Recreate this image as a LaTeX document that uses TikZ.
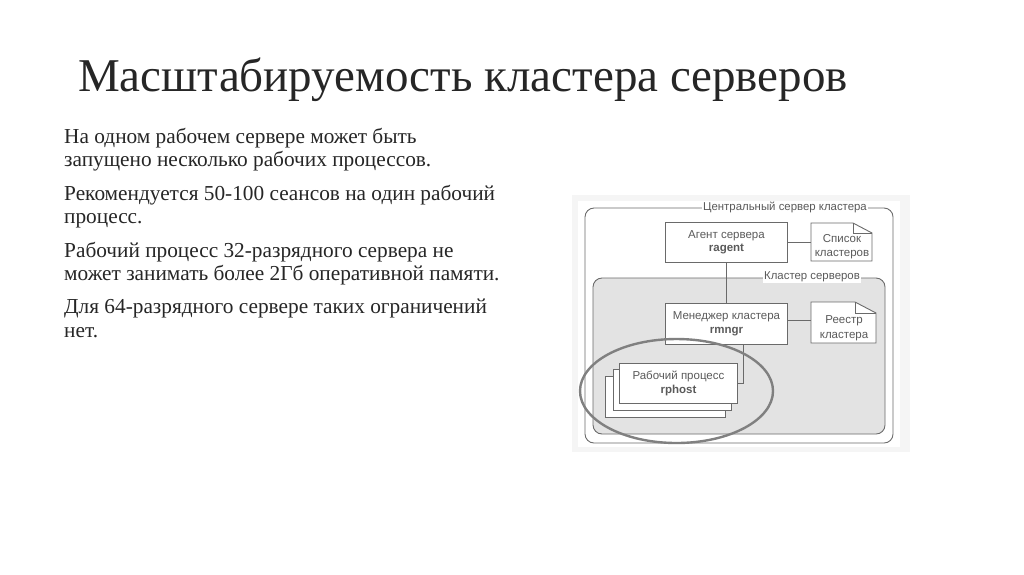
\documentclass[tikz,border=0pt]{standalone}
\usepackage{fontspec}
\setmainfont{Liberation Serif}
\newfontfamily\dia{Liberation Sans}
\usetikzlibrary{calc}
\definecolor{ln}{HTML}{6A6A6A}
\definecolor{txt}{HTML}{5A5A5A}
\tikzset{
 x=1pt,y=-1pt,
 titletext/.style={anchor=base west,inner sep=0pt,text=black!85,font=\fontsize{47}{52}\selectfont},
 bodytext/.style={anchor=north west,inner sep=0pt,align=left,text=black!85,font=\fontsize{21.3}{23.4}\selectfont},
 frame/.style={draw=ln,line width=0.9pt,rounded corners=9pt},
 boxn/.style={draw=ln,line width=0.9pt,fill=white,anchor=north west,inner sep=0pt,align=center,text=txt,font=\dia\fontsize{11.5}{13.5}\selectfont},
 lab/.style={inner sep=1pt,text=txt,font=\dia\fontsize{11.4}{12}\selectfont},
 wire/.style={draw=ln,line width=0.9pt},
 doclab/.style={inner sep=0pt,align=center,text=txt,font=\dia\fontsize{11.5}{14.5}\selectfont}
}
\begin{document}
\begin{tikzpicture}
\useasboundingbox (0,0) rectangle (1024,574);
\fill[white] (0,0) rectangle (1024,574);
\node[titletext] (title) at (78,91) {Масштабируемость кластера серверов};
\node[bodytext] (p1) at (64,128) {На одном рабочем сервере может быть\\запущено несколько рабочих процессов.};
\node[bodytext] (p2) at (64,185) {Рекомендуется 50-100 сеансов на один рабочий\\процесс.};
\node[bodytext] (p3) at (64,242) {Рабочий процесс 32-разрядного сервера не\\может занимать более 2Гб оперативной памяти.};
\node[bodytext] (p4) at (64,299) {Для 64-разрядного сервере таких ограничений\\нет.};
% scan background
\fill[black!4] (572,195) rectangle (910,452);
\fill[white] (578,201) rectangle (900,447);
% frames
\draw[frame,fill=white] (585,208) rectangle (893,443);
\draw[frame,fill=black!11] (593,278) rectangle (885,434);
\node[lab,fill=white] (central) at (785,207) {Центральный сервер кластера};
\node[lab,fill=white] (cluster) at (812,277) {Кластер серверов};
% boxes
\node[boxn,minimum width=122pt,minimum height=40pt] (agent) at (665,222) {Агент сервера\\\textbf{ragent}};
\node[boxn,minimum width=122pt,minimum height=41pt] (mgr) at (665,303) {Менеджер кластера\\\textbf{rmngr}};
\node[boxn,minimum width=120pt,minimum height=41pt] (w3) at (605,376) {};
\node[boxn,minimum width=118pt,minimum height=41pt] (w2) at (613,369) {};
\node[boxn,minimum width=118pt,minimum height=40pt] (w1) at (619,363) {Рабочий процесс\\\textbf{rphost}};
% documents
\draw[wire,fill=white] (811,223) -- (853,223) -- (872,233) -- (872,261) -- (811,261) -- cycle;
\draw[wire] (853,223) -- (853,233) -- (872,233);
\draw[wire,fill=white] (811,302) -- (855,302) -- (876,313) -- (876,343) -- (811,343) -- cycle;
\draw[wire] (855,302) -- (855,313) -- (876,313);
\node[doclab] (d1) at (842,246.5) {Список\\кластеров};
\node[doclab] (d2) at (844,328) {Реестр\\кластера};
% connectors
\coordinate (d1w) at (811,242);
\coordinate (d2w) at (811,320);
\coordinate (wr) at (743,383);
\draw[wire] (agent.east |- d1w) -- (d1w);
\draw[wire] (mgr.east |- d2w) -- (d2w);
\draw[wire] (agent.south) -- (mgr.north);
\draw[wire] (mgr.south -| wr) -- (wr) -- (w1.east |- wr);
% highlight
\draw[draw=black!50,line width=2.4pt] (676.5,391) ellipse [x radius=96.5,y radius=52];
\end{tikzpicture}
\end{document}
